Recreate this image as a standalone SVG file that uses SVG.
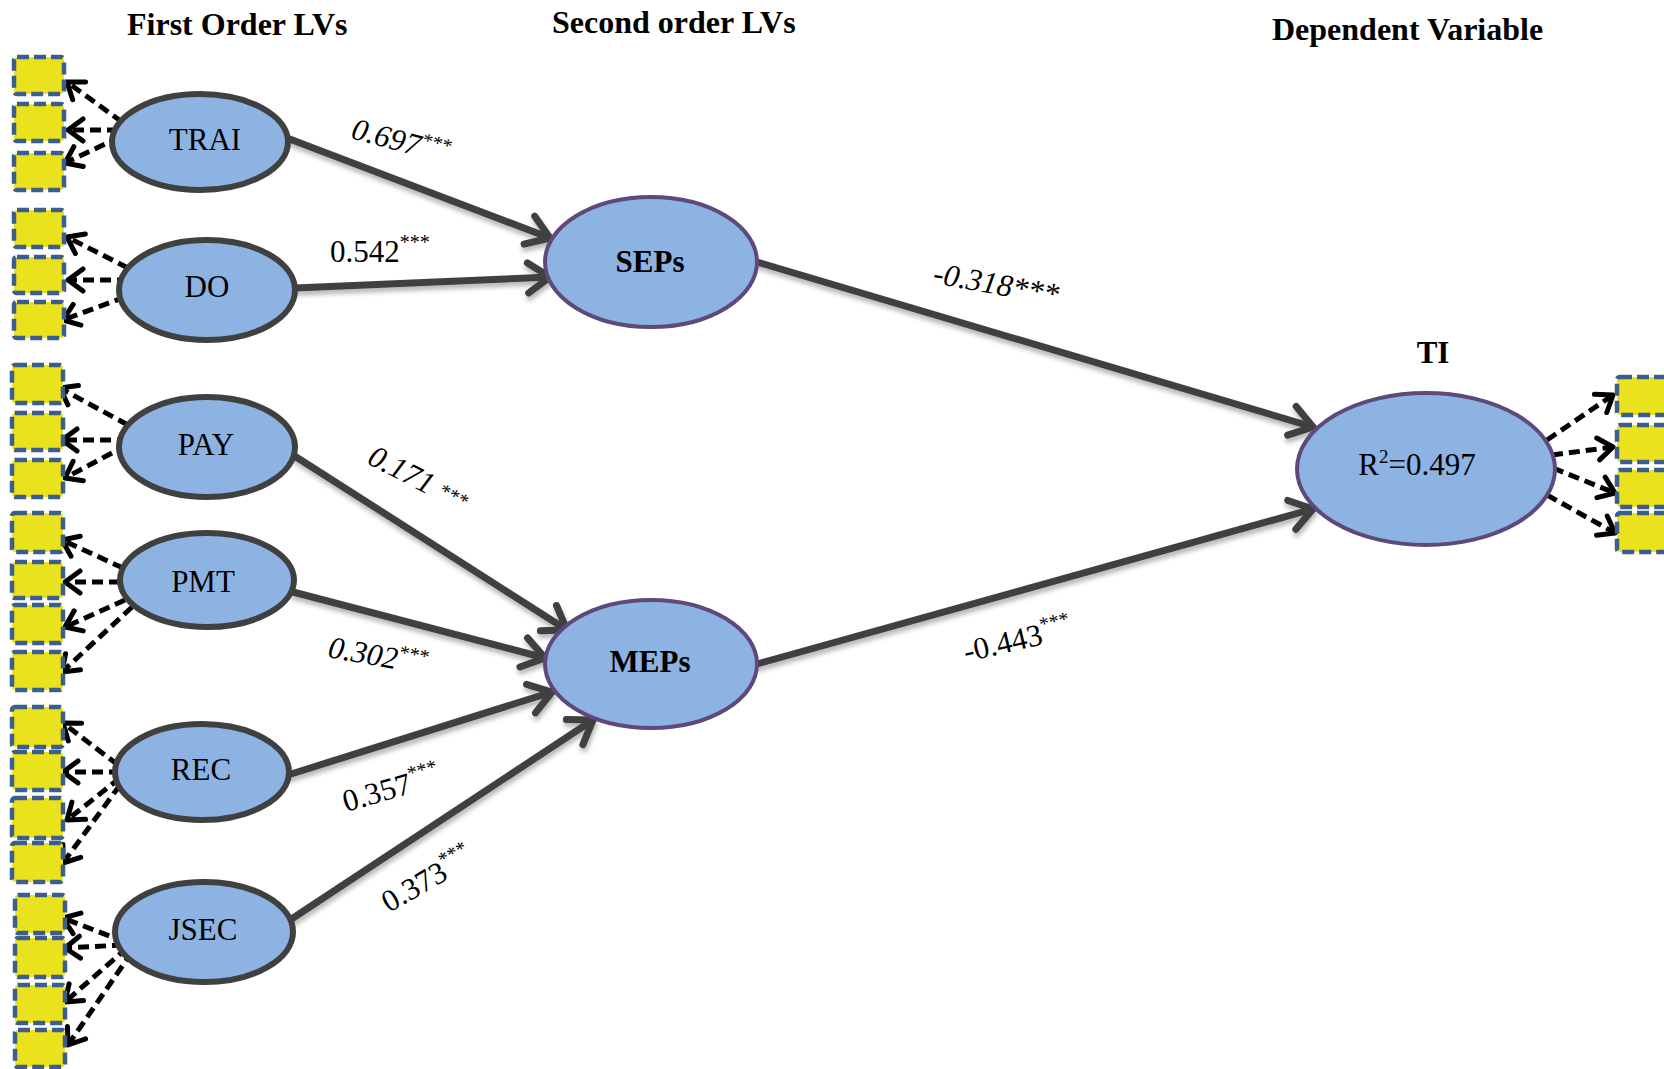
<svg xmlns="http://www.w3.org/2000/svg" width="1664" height="1069" viewBox="0 0 1664 1069">
  <style>
    .lv1 { fill: #8db3e2; stroke: #404040; stroke-width: 6; }
    .lv2 { fill: #8db3e2; stroke: #5f497a; stroke-width: 4; }
    .ind { fill: #ebe21e; stroke: #3b5e8c; stroke-width: 4.5; stroke-dasharray: 12 5; }
    .path { fill: none; stroke: #404040; stroke-width: 7; stroke-linecap: round; marker-end: url(#bigArrow); }
    .load { fill: none; stroke: #000; stroke-width: 5; stroke-dasharray: 11 6; marker-end: url(#smallArrow); }
    .name { font-family: "Liberation Serif", "Times New Roman", serif; font-size: 31px; fill: #000; text-anchor: middle; }
    .bold { font-weight: bold; }
    .head { font-family: "Liberation Serif", "Times New Roman", serif; font-size: 32px; font-weight: bold; fill: #000; }
    .coef { font-family: "Liberation Serif", "Times New Roman", serif; font-size: 31px; fill: #000; }
    .it { font-style: italic; }
    .sup { font-size: 20px; }
    .sup2 { font-size: 19px; }
  </style>
  <defs>
    <marker id="bigArrow" markerUnits="userSpaceOnUse" markerWidth="60" markerHeight="60" viewBox="-30 -30 60 60" refX="0" refY="0" orient="auto" overflow="visible">
      <path d="M -22 -15 L 0 0 L -22 15" fill="none" stroke="#404040" stroke-width="7" stroke-linecap="round" stroke-linejoin="round"/>
    </marker>
    <marker id="smallArrow" markerUnits="userSpaceOnUse" markerWidth="40" markerHeight="40" viewBox="-20 -20 40 40" refX="0" refY="0" orient="auto" overflow="visible">
      <path d="M -15 -11 L 0 0 L -15 11" fill="none" stroke="#000" stroke-width="5" stroke-linecap="round" stroke-linejoin="round"/>
    </marker>
    <filter id="shadow" x="-10%" y="-10%" width="120%" height="130%">
      <feGaussianBlur in="SourceAlpha" stdDeviation="2.5"/>
      <feOffset dx="1" dy="4" result="off"/>
      <feComponentTransfer><feFuncA type="linear" slope="0.3"/></feComponentTransfer>
      <feMerge><feMergeNode/><feMergeNode in="SourceGraphic"/></feMerge>
    </filter>
  </defs>

  <rect width="1664" height="1069" fill="#fff"/>

  <!-- column headings -->
  <g id="headings">
    <text class="head" x="127" y="35">First Order LVs</text>
    <text class="head" x="552" y="33">Second order LVs</text>
    <text class="head" x="1272" y="40">Dependent Variable</text>
  </g>

  <!-- structural paths -->
  <g id="connectors" filter="url(#shadow)">
    <line class="path" x1="287" y1="138" x2="550" y2="238"/>
    <line class="path" x1="295" y1="288" x2="550" y2="277"/>
    <line class="path" x1="293" y1="455" x2="567" y2="630"/>
    <line class="path" x1="293" y1="592" x2="545" y2="658"/>
    <line class="path" x1="288" y1="775" x2="552" y2="692"/>
    <line class="path" x1="290" y1="920" x2="593" y2="720"/>
    <line class="path" x1="757" y1="262" x2="1313" y2="427"/>
    <line class="path" x1="757" y1="664" x2="1313" y2="509"/>
  </g>

  <!-- indicator loadings -->
  <g id="loadings">
    <line class="load" x1="122" y1="122" x2="67" y2="82"/>
    <line class="load" x1="118" y1="130" x2="68" y2="130"/>
    <line class="load" x1="120" y1="137" x2="65" y2="163"/>

    <line class="load" x1="128" y1="268" x2="67" y2="237"/>
    <line class="load" x1="128" y1="280" x2="68" y2="280"/>
    <line class="load" x1="125" y1="297" x2="63" y2="320"/>

    <line class="load" x1="128" y1="425" x2="60" y2="388"/>
    <line class="load" x1="128" y1="440" x2="62" y2="440"/>
    <line class="load" x1="127" y1="445" x2="65" y2="478"/>

    <line class="load" x1="123" y1="568" x2="62" y2="540"/>
    <line class="load" x1="120" y1="582" x2="65" y2="582"/>
    <line class="load" x1="125" y1="600" x2="65" y2="627"/>
    <line class="load" x1="132" y1="607" x2="62" y2="672"/>

    <line class="load" x1="118" y1="765" x2="63" y2="723"/>
    <line class="load" x1="120" y1="772" x2="63" y2="772"/>
    <line class="load" x1="120" y1="778" x2="67" y2="820"/>
    <line class="load" x1="120" y1="785" x2="63" y2="863"/>

    <line class="load" x1="125" y1="942" x2="63" y2="918"/>
    <line class="load" x1="123" y1="945" x2="65" y2="948"/>
    <line class="load" x1="127" y1="948" x2="65" y2="1002"/>
    <line class="load" x1="132" y1="952" x2="68" y2="1045"/>

    <line class="load" x1="1547" y1="440" x2="1613" y2="395"/>
    <line class="load" x1="1552" y1="455" x2="1613" y2="447"/>
    <line class="load" x1="1553" y1="468" x2="1615" y2="493"/>
    <line class="load" x1="1547" y1="495" x2="1615" y2="533"/>
  </g>

  <!-- indicator boxes -->
  <g id="indicators">
    <rect class="ind" x="14" y="57" width="50" height="37" rx="3"/>
    <rect class="ind" x="14" y="104" width="50" height="37" rx="3"/>
    <rect class="ind" x="14" y="153" width="50" height="37" rx="3"/>

    <rect class="ind" x="14" y="210" width="50" height="37" rx="3"/>
    <rect class="ind" x="14" y="257" width="50" height="36" rx="3"/>
    <rect class="ind" x="14" y="302" width="50" height="36" rx="3"/>

    <rect class="ind" x="12" y="365" width="51" height="38" rx="3"/>
    <rect class="ind" x="12" y="413" width="51" height="37" rx="3"/>
    <rect class="ind" x="12" y="460" width="51" height="37" rx="3"/>

    <rect class="ind" x="12" y="513" width="51" height="39" rx="3"/>
    <rect class="ind" x="12" y="562" width="51" height="36" rx="3"/>
    <rect class="ind" x="12" y="605" width="51" height="38" rx="3"/>
    <rect class="ind" x="12" y="652" width="51" height="38" rx="3"/>

    <rect class="ind" x="12" y="707" width="51" height="40" rx="3"/>
    <rect class="ind" x="12" y="752" width="51" height="38" rx="3"/>
    <rect class="ind" x="12" y="798" width="51" height="40" rx="3"/>
    <rect class="ind" x="12" y="843" width="51" height="39" rx="3"/>

    <rect class="ind" x="15" y="895" width="50" height="38" rx="3"/>
    <rect class="ind" x="15" y="938" width="50" height="39" rx="3"/>
    <rect class="ind" x="15" y="985" width="50" height="38" rx="3"/>
    <rect class="ind" x="15" y="1030" width="50" height="37" rx="3"/>

    <rect class="ind" x="1617" y="377" width="60" height="38" rx="3"/>
    <rect class="ind" x="1617" y="425" width="60" height="37" rx="3"/>
    <rect class="ind" x="1617" y="470" width="60" height="37" rx="3"/>
    <rect class="ind" x="1617" y="513" width="60" height="39" rx="3"/>
  </g>

  <!-- first order latent variables -->
  <g id="TRAI">
    <ellipse class="lv1" cx="200" cy="142" rx="88" ry="48"/>
    <text class="name" x="205" y="150">TRAI</text>
  </g>
  <g id="DO">
    <ellipse class="lv1" cx="207" cy="290" rx="88" ry="50"/>
    <text class="name" x="207" y="297">DO</text>
  </g>
  <g id="PAY">
    <ellipse class="lv1" cx="207" cy="447" rx="88" ry="50"/>
    <text class="name" x="206" y="455">PAY</text>
  </g>
  <g id="PMT">
    <ellipse class="lv1" cx="207" cy="580" rx="87" ry="47"/>
    <text class="name" x="203" y="592">PMT</text>
  </g>
  <g id="REC">
    <ellipse class="lv1" cx="202" cy="772" rx="87" ry="48"/>
    <text class="name" x="201" y="780">REC</text>
  </g>
  <g id="JSEC">
    <ellipse class="lv1" cx="204" cy="932" rx="89" ry="50"/>
    <text class="name" x="203" y="940">JSEC</text>
  </g>

  <!-- second order latent variables -->
  <g id="SEPs">
    <ellipse class="lv2" cx="651" cy="262" rx="106" ry="65"/>
    <text class="name bold" x="650" y="272">SEPs</text>
  </g>
  <g id="MEPs">
    <ellipse class="lv2" cx="651" cy="664" rx="106" ry="64"/>
    <text class="name bold" x="650" y="672">MEPs</text>
  </g>

  <!-- dependent variable -->
  <g id="TI">
    <text class="name bold" x="1433" y="363">TI</text>
    <ellipse class="lv2" cx="1426" cy="469" rx="129" ry="76"/>
    <text class="name" x="1417" y="475">R<tspan class="sup2" dy="-12">2</tspan><tspan dy="12">=0.497</tspan></text>
  </g>

  <!-- path coefficients -->
  <g id="coefficients">
    <text class="coef it" transform="translate(350,138) rotate(15)">0.697<tspan class="sup" dy="-11">***</tspan></text>
    <text class="coef" x="330" y="262">0.542<tspan class="sup" dy="-13">***</tspan></text>
    <text class="coef it" transform="translate(932,283) rotate(10)">-0.318***</text>
    <text class="coef it" transform="translate(366,463) rotate(27)">0.171 <tspan class="sup" dy="-4">***</tspan></text>
    <text class="coef it" transform="translate(327,657) rotate(10)">0.302<tspan class="sup" dy="-11">***</tspan></text>
    <text class="coef" transform="translate(346,812) rotate(-16)">0.357<tspan class="sup" dy="-13">***</tspan></text>
    <text class="coef" transform="translate(389,913) rotate(-30)">0.373<tspan class="sup" dy="-13">***</tspan></text>
    <text class="coef" transform="translate(966,662) rotate(-13)">-0.443<tspan class="sup" dy="-13">***</tspan></text>
  </g>
</svg>
